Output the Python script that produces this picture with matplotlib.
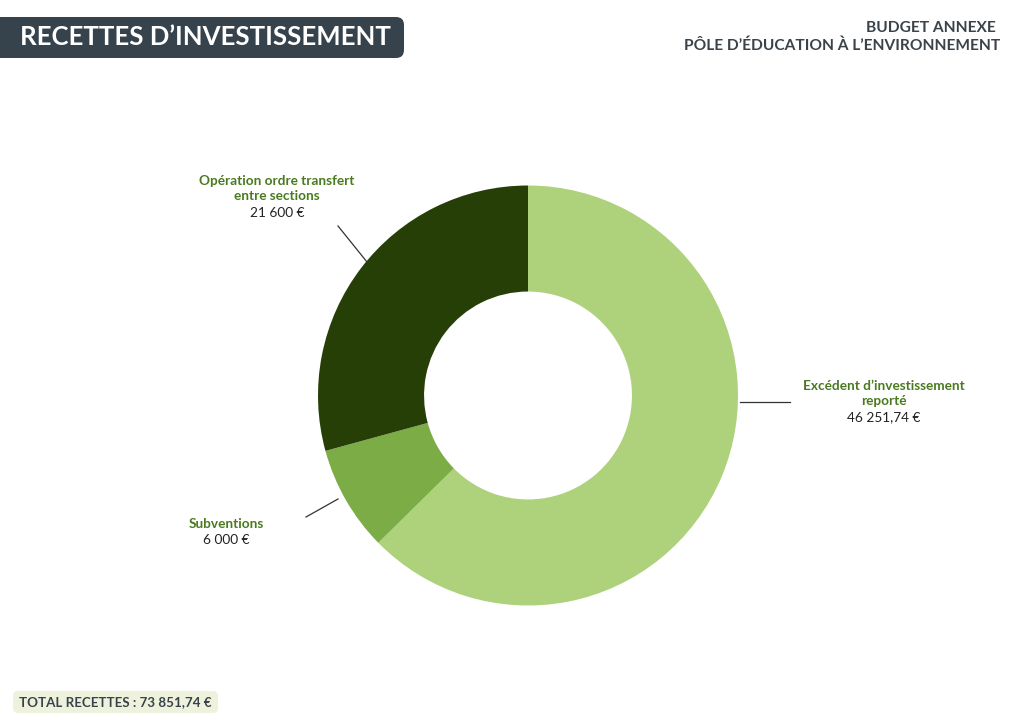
import matplotlib.pyplot as plt
from matplotlib.patches import FancyBboxPatch

# data
labels = ["Excédent d’investissement\nreporté", "Subventions", "Opération ordre transfert\nentre sections"]
amounts = [46251.74, 6000, 21600]
amount_txt = ["46 251,74 €", "6 000 €", "21 600 €"]
colors = ["#AED17C", "#7BAC45", "#263F07"]
total_txt = "TOTAL RECETTES : 73 851,74 €"

W, H = 1024, 724
plt.rcParams['font.family'] = ['Lato', 'DejaVu Sans']

fig = plt.figure(figsize=(W / 100, H / 100), dpi=100)
ax = fig.add_axes([0, 0, 1, 1])


def Y(y):
    # pixel row from the top -> data y
    return H - y


# donut
cx, cy, r = 528, Y(395.5), 210
ax.pie(amounts, colors=colors, startangle=90, counterclock=False,
       center=(cx, cy), radius=r, frame=True,
       wedgeprops=dict(width=r * 0.505, edgecolor='none'))
ax.set_xlim(0, W)
ax.set_ylim(0, H)
ax.axis('off')

# leader lines and labels
green = "#4A7A1F"
step = 16.3  # line step in px
lines = [((740, 402), (790, 402)),
         ((338, 499), (306, 517)),
         ((367, 262), (338, 226))]
label_pos = [(884, 385), (226, 524), (277, 180)]
for lab, amt, (p0, p1), (tx, ty) in zip(labels, amount_txt, lines, label_pos):
    ax.plot([p0[0], p1[0]], [Y(p0[1]), Y(p1[1])], color="#333333", lw=0.9)
    nl = lab.count("\n") + 1
    ax.text(tx, Y(ty + step * (nl - 1) / 2), lab, color=green, fontsize=9.8,
            fontweight='bold', ha='center', va='center', linespacing=1.3)
    ax.text(tx, Y(ty + step * nl), amt, color="#222222", fontsize=9.8,
            ha='center', va='center')

# title banner
ax.add_patch(FancyBboxPatch((-30, Y(58)), 434, 41,
                            boxstyle="round,pad=0,rounding_size=8",
                            fc="#37434C", ec='none'))
ax.text(20, Y(37), "RECETTES D’INVESTISSEMENT", color='white',
        fontsize=18.5, fontweight='bold', ha='left', va='center')

# top right
ax.text(996, Y(28), "BUDGET ANNEXE", color="#3A434A", fontsize=11.2,
        fontweight='bold', ha='right', va='center')
ax.text(1000, Y(46), "PÔLE D’ÉDUCATION À L’ENVIRONNEMENT", color="#3A434A",
        fontsize=11.2, fontweight='bold', ha='right', va='center')

# total box
ax.add_patch(FancyBboxPatch((13, Y(713)), 205, 22,
                            boxstyle="round,pad=0,rounding_size=5",
                            fc="#EEF2DC", ec='none'))
ax.text(19, Y(702), total_txt, color="#37434C", fontsize=9.6,
        fontweight='bold', ha='left', va='center')

fig.savefig("out.png", dpi=100)
